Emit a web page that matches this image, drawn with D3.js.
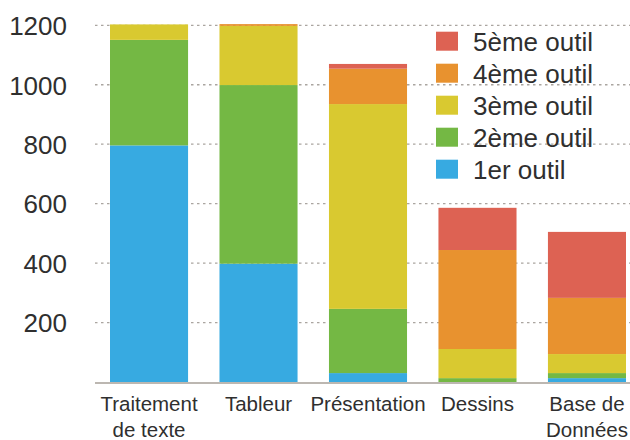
<!DOCTYPE html>
<html>
<head>
<meta charset="utf-8">
<script src="https://cdn.jsdelivr.net/npm/d3@7/dist/d3.min.js"></script>
<style>
  html, body { margin: 0; padding: 0; background: #fff; }
  svg { display: block; font-family: "Liberation Sans", Arial, Helvetica, sans-serif; }
</style>
</head>
<body>
<svg id="chart" width="630" height="440"></svg>
<script>
// Usage counts per category, stacked by tool rank
const categories = ["Traitement de texte", "Tableur", "Présentation", "Dessins", "Base de Données"];
const categoryLines = [["Traitement", "de texte"], ["Tableur"], ["Présentation"], ["Dessins"], ["Base de", "Données"]];
const seriesNames = ["1er outil", "2ème outil", "3ème outil", "4ème outil", "5ème outil"];
const outil1 = [796, 398, 30, 0, 13];
const outil2 = [355, 601, 216, 13, 17];
const outil3 = [52, 199, 689, 98, 64];
const outil4 = [0, 6, 119, 333, 189];
const outil5 = [0, 0, 16, 142, 222];
const yTicks = [200, 400, 600, 800, 1000, 1200];
const colors = ["#37aae1", "#74b844", "#d9c930", "#e8922f", "#dd6253"];

const seriesValues = [outil1, outil2, outil3, outil4, outil5];
const rows = categories.map((c, i) => {
  const r = { category: c };
  seriesNames.forEach((s, k) => { r[s] = seriesValues[k][i]; });
  return r;
});

const svg = d3.select("#chart");
const x0 = 95, x1 = 641, yBase = 382, yTop = 25.3;

const x = d3.scaleBand().domain(categories).range([x0, x1]).paddingInner(0.287).paddingOuter(0.137);
const y = d3.scaleLinear().domain([0, 1200]).range([yBase, yTop]);

// Dashed horizontal gridlines
svg.append("g").selectAll("line").data(yTicks).join("line")
  .attr("x1", x0).attr("x2", 630)
  .attr("y1", d => y(d)).attr("y2", d => y(d))
  .attr("stroke", "#aaa5a0").attr("stroke-width", 1.3)
  .attr("stroke-dasharray", "2.5,3.5");

// Stacked bars
const stack = d3.stack().keys(seriesNames)(rows);
svg.append("g").selectAll("g").data(stack).join("g")
  .attr("fill", (d, i) => colors[i])
  .selectAll("rect").data(d => d).join("rect")
  .attr("x", d => x(d.data.category))
  .attr("width", x.bandwidth())
  .attr("y", d => y(d[1]))
  .attr("height", d => Math.max(0, y(d[0]) - y(d[1])));

// Baseline
svg.append("line")
  .attr("x1", x0).attr("x2", 630)
  .attr("y1", yBase + 1).attr("y2", yBase + 1)
  .attr("stroke", "#bcb7b1").attr("stroke-width", 2);

// Y tick labels
const yAxis = d3.axisLeft(y).tickValues(yTicks).tickFormat(d3.format("d")).tickSize(0).tickPadding(0);
const gy = svg.append("g").attr("transform", "translate(67,1)").call(yAxis);
gy.select(".domain").remove();
gy.selectAll("text")
  .attr("font-size", 26).attr("fill", "#2f2f2f")
  .attr("font-family", "'Liberation Sans', Arial, sans-serif");

// X category labels (multi-line)
const xl = svg.append("g").selectAll("text").data(categories).join("text")
  .attr("x", d => x(d) + x.bandwidth() / 2)
  .attr("y", 411)
  .attr("text-anchor", "middle")
  .attr("font-size", 20.5).attr("fill", "#2f2f2f");
xl.each(function(d, i) {
  d3.select(this).selectAll("tspan").data(categoryLines[i]).join("tspan")
    .attr("x", x(d) + x.bandwidth() / 2)
    .attr("dy", (t, j) => j === 0 ? 0 : 26)
    .text(t => t);
});

// Legend, top rank first
const legendOrder = seriesNames.map((s, i) => i).reverse();
const lg = svg.append("g").selectAll("g").data(legendOrder).join("g")
  .attr("transform", (d, j) => `translate(436, ${31.7 + j * 32})`);
lg.append("rect").attr("width", 22).attr("height", 19).attr("fill", d => colors[d]);
lg.append("text").attr("x", 37).attr("y", 19)
  .attr("font-size", 26).attr("fill", "#2f2f2f")
  .text(d => seriesNames[d]);
</script>
</body>
</html>
